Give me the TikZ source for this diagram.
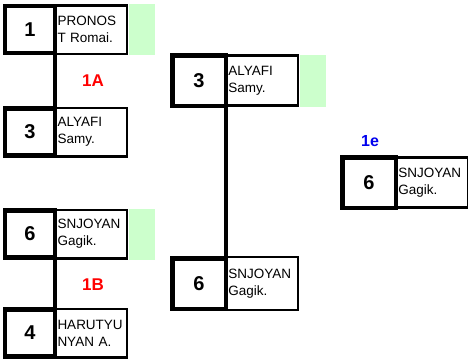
\documentclass[tikz,border=0pt]{standalone}
\usepackage{fontspec}
\setmainfont{Liberation Sans}
\usetikzlibrary{positioning}
\definecolor{wingreen}{RGB}{204,255,204}
\definecolor{lblred}{RGB}{255,0,0}
\definecolor{lblblue}{RGB}{0,0,238}

\begin{document}
\begin{tikzpicture}[x=1pt,y=-1pt,
  seed/.style={draw,line width=4.5pt,outer sep=0pt,inner sep=0pt,
    minimum width=50pt,minimum height=47pt,
    font=\fontsize{20}{20}\selectfont\bfseries},
  player/.style={draw,line width=2.5pt,outer sep=0pt,inner xsep=2.5pt,inner ysep=0pt,
    minimum width=72pt,minimum height=48.5pt,text width=67pt,align=left,
    font=\fontsize{13.5}{17}\selectfont},
  winmark/.style={fill=wingreen,outer sep=0pt,inner sep=0pt,
    minimum width=26pt,minimum height=51pt},
  link/.style={line width=4.5pt},
  matchlbl/.style={font=\fontsize{17}{17}\selectfont\bfseries,text=lblred}]
\def\gap{0pt}
\useasboundingbox (0,0) rectangle (468,362);

% first round
\node[seed] (s1) at (30,29.5) {1};
\node[winmark,right=\gap of s1,xshift=73.75pt] (g1) {};
\node[player,right=\gap of s1] (p1) {PRONOS\\T Romai.};
\node[seed] (s3) at (30,132) {3};
\node[player,right=\gap of s3] (p3) {ALYAFI\\Samy.};
\node[seed] (s6) at (30,234) {6};
\node[winmark,right=\gap of s6,xshift=73.75pt] (g6) {};
\node[player,right=\gap of s6] (p6) {SNJOYAN\\Gagik.};
\node[seed] (s4) at (30,333) {4};
\node[player,right=\gap of s4] (p4) {HARUTYU\\NYAN A.};

\draw[link] (s1.south east) -- (s3.north east);
\draw[link] (s6.south east) -- (s4.north east);
\node[matchlbl] (m1a) at (93,81) {1A};
\node[matchlbl] (m1b) at (93,285) {1B};

% second round
\node[seed,minimum width=53.5pt,minimum height=50.5pt] (t3) at (199,80.5) {3};
\node[winmark,right=\gap of t3,xshift=73.75pt,minimum height=52pt] (h3) {};
\node[player,right=\gap of t3,minimum height=50pt] (q3) {ALYAFI\\Samy.};
\node[seed,minimum width=53.5pt,minimum height=50.5pt] (t6) at (199,283.5) {6};
\node[player,right=\gap of t6,minimum height=53pt] (q6) {SNJOYAN\\Gagik.};

\draw[link] (t3.south east) -- (t6.north east);

% final
\node[seed,minimum width=53.5pt,minimum height=50.5pt] (f6) at (369,182.5) {6};
\node[player,right=\gap of f6,minimum height=50pt] (r6) {SNJOYAN\\Gagik.};
\node[matchlbl,text=lblblue,font=\fontsize{16}{16}\selectfont\bfseries] (m1e) at (370,141) {1e};
\end{tikzpicture}
\end{document}
